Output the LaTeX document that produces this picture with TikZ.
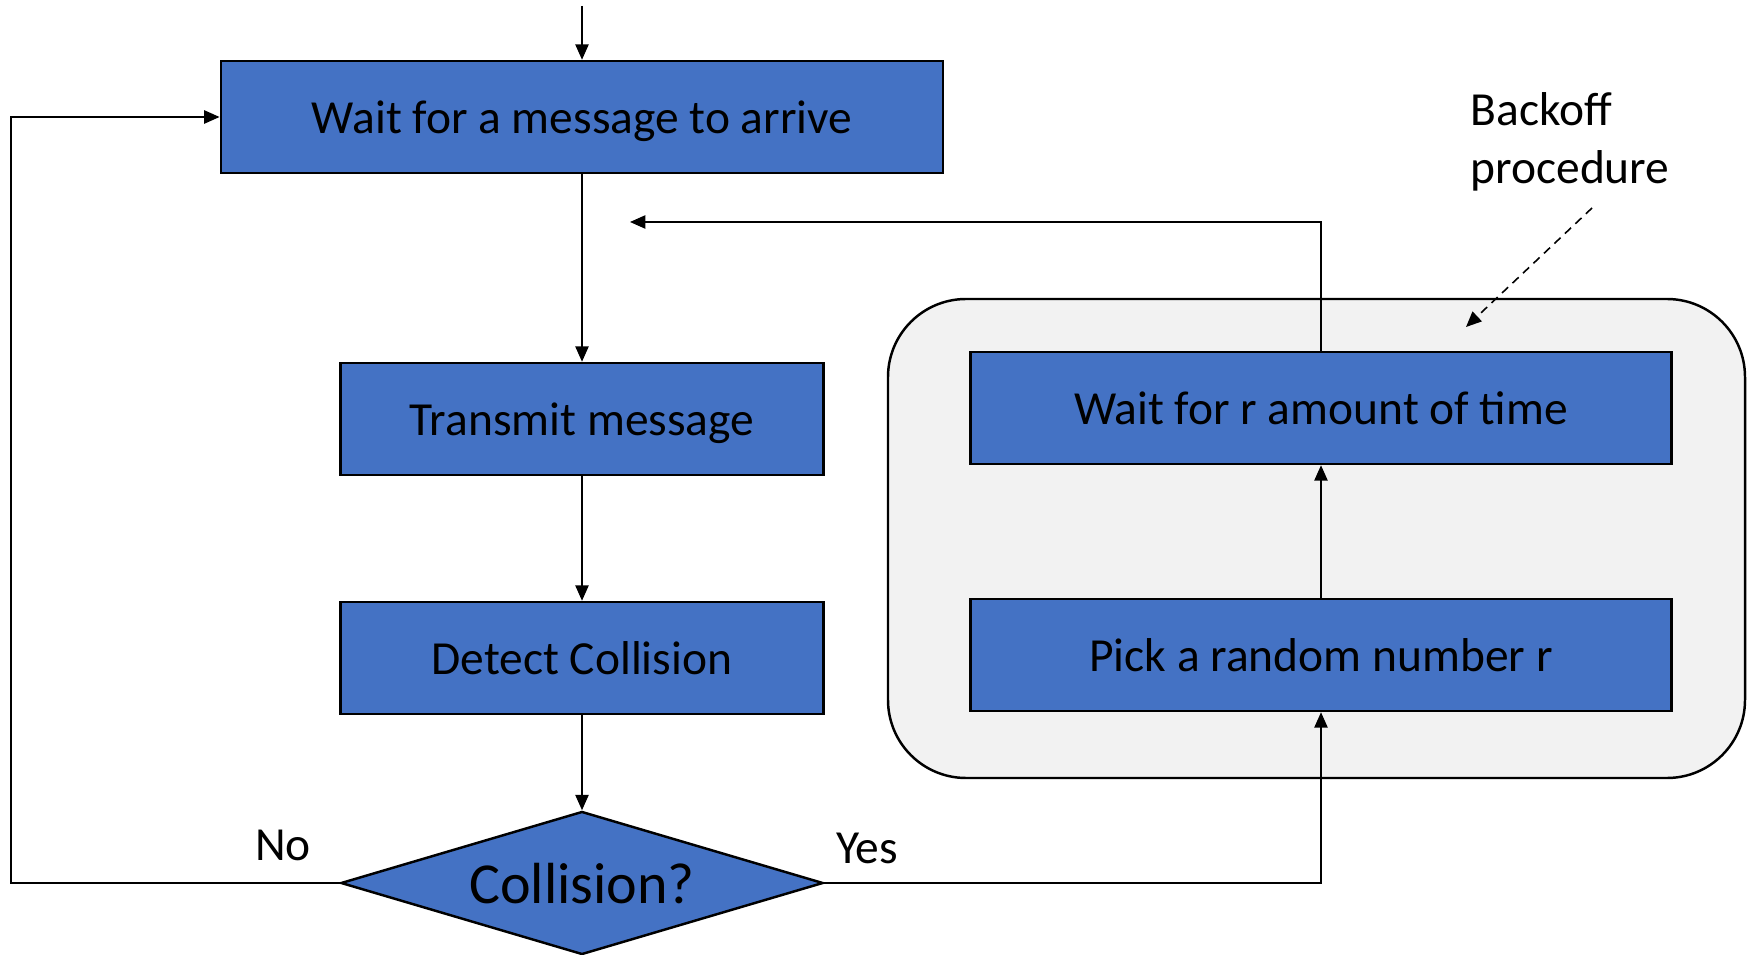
\documentclass[tikz,border=0pt]{standalone}
\usepackage{fontspec}
\setmainfont{Carlito}
\usetikzlibrary{shapes.geometric,arrows.meta}
\definecolor{boxblue}{HTML}{4472C4}
\definecolor{panelgray}{HTML}{F2F2F2}
\begin{document}
\begin{tikzpicture}[x=0.01cm,y=-0.01cm,line width=0.45pt,
  >={Triangle[length=4.4pt,width=3.8pt]},
  txt/.style={font=\fontsize{13.5}{16.5}\selectfont},
  box/.style={txt,draw,fill=boxblue,line width=0.7pt,minimum height=1.12cm,inner sep=0pt,text depth=0pt}]
  \useasboundingbox (0,0) rectangle (1748,955);
  \draw [fill=panelgray,line width=0.7pt,rounded corners=0.78cm] (888,299) rectangle (1745,778);
  \node [box,minimum width=7.22cm] (wait)   at (582,117)  {Wait for a message to arrive};
  \node [box,minimum width=4.83cm] (send)   at (582,419)  {Transmit message};
  \node [box,minimum width=4.83cm] (detect) at (582,658)  {Detect Collision};
  \node [box,diamond,shape aspect=3.37,minimum width=4.82cm,minimum height=1.43cm]
        (coll) at (582,883) {\fontsize{16.5}{20}\selectfont Collision?};
  \node [box,minimum width=7.01cm] (pick)   at (1321,655) {Pick a random number r};
  \node [box,minimum width=7.01cm] (delay)  at (1321,408) {Wait for r amount of time};
  \node [txt] (no)  at (283,845) {No};
  \node [txt] (yes) at (867,848) {Yes};
  \node [txt,align=left,anchor=west] (note) at (1458,142) {Backoff\\procedure};
  \coordinate (in)   at (582,6);
  \coordinate (loop) at (11,0);
  \coordinate (back) at (630,222);
  \coordinate (tail) at (1592,208);
  \coordinate (ptr)  at (1466,327);
  \draw [->] (in) -- (wait);
  \draw [->] (wait) -- (send);
  \draw [->] (send) -- (detect);
  \draw [->] (detect) -- (coll);
  \draw [->] (coll.west) -- (coll.west -| loop) |- (wait.west);
  \draw [->] (coll.east) -| (pick.south);
  \draw [->] (pick) -- (delay);
  \draw [->] (delay.north) |- (back);
  \draw [->,dash pattern=on 2.4pt off 1.7pt] (tail) -- (ptr);
\end{tikzpicture}
\end{document}
